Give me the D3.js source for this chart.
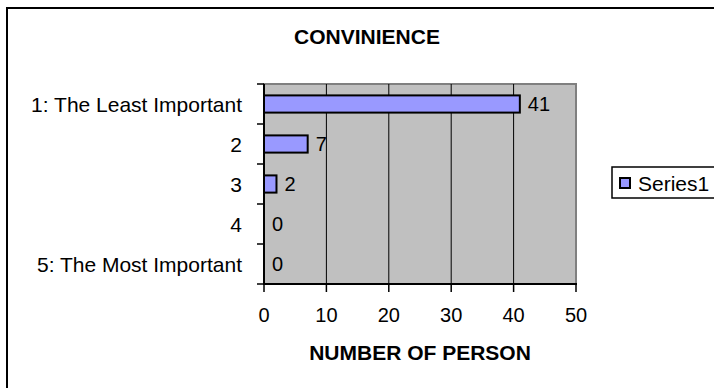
<!DOCTYPE html>
<html>
<head>
<meta charset="utf-8">
<script src="https://cdn.jsdelivr.net/npm/d3@7"></script>
<style>
  body { margin: 0; background: #fff; }
  svg { display: block; font-family: Arial, "Liberation Sans", sans-serif; }
</style>
</head>
<body>
<svg id="chart" width="714" height="388"></svg>
<script>
// data
const categories = ['1: The Least Important', '2', '3', '4', '5: The Most Important'];
const series1 = [41, 7, 2, 0, 0];
const xTicks = [0, 10, 20, 30, 40, 50];
const seriesName = 'Series1';

const plot = { left: 264, top: 84, right: 576, bottom: 284 };
const svg = d3.select('#chart');

// outer chart border (runs off the right and bottom edges)
svg.append('rect')
  .attr('x', 7).attr('y', 8)
  .attr('width', 800).attr('height', 500)
  .attr('fill', '#fff')
  .attr('stroke', '#000')
  .attr('stroke-width', 2);

let x = d3.scaleLinear().domain([0, 50]).range([plot.left, plot.right]);
let y = d3.scaleBand().domain(categories).range([plot.top, plot.bottom]).paddingInner(0.57).paddingOuter(0.285);
let yEdge = d3.scaleBand().domain(categories).range([plot.top, plot.bottom]);

// plot area
svg.append('rect')
  .attr('x', plot.left).attr('y', plot.top)
  .attr('width', plot.right - plot.left).attr('height', plot.bottom - plot.top)
  .attr('fill', '#c0c0c0')
  .attr('stroke', '#808080')
  .attr('stroke-width', 2);

// gridlines
svg.append('g')
  .selectAll('line')
  .data(xTicks.slice(1, -1))
  .enter()
  .append('line')
  .attr('x1', d => x(d)).attr('x2', d => x(d))
  .attr('y1', plot.top).attr('y2', plot.bottom)
  .attr('stroke', '#000')
  .attr('stroke-width', 1);

// bars
svg.append('g')
  .selectAll('rect')
  .data(series1)
  .enter()
  .append('rect')
  .attr('x', x(0))
  .attr('y', (d, i) => y(categories[i]))
  .attr('width', d => x(d) - x(0))
  .attr('height', y.bandwidth())
  .attr('fill', '#9999ff')
  .attr('stroke', '#000')
  .attr('stroke-width', 2)
  .style('display', d => d > 0 ? null : 'none');

// value labels
svg.append('g')
  .selectAll('text')
  .data(series1)
  .enter()
  .append('text')
  .attr('x', d => x(d) + 8)
  .attr('y', (d, i) => y(categories[i]) + y.bandwidth() / 2)
  .attr('dy', '0.36em')
  .attr('font-size', 20)
  .text(d => d);

// y axis
svg.append('line')
  .attr('x1', plot.left).attr('x2', plot.left)
  .attr('y1', plot.top).attr('y2', plot.bottom + 1)
  .attr('stroke', '#000').attr('stroke-width', 2);
let yTickPos = categories.map(c => yEdge(c)).concat([plot.bottom]);
svg.append('g')
  .selectAll('line')
  .data(yTickPos)
  .enter()
  .append('line')
  .attr('x1', plot.left - 7).attr('x2', plot.left)
  .attr('y1', d => d).attr('y2', d => d)
  .attr('stroke', '#000').attr('stroke-width', 1.5);
svg.append('g')
  .selectAll('text')
  .data(categories)
  .enter()
  .append('text')
  .attr('x', plot.left - 22)
  .attr('y', d => yEdge(d) + yEdge.bandwidth() / 2)
  .attr('dy', '0.36em')
  .attr('text-anchor', 'end')
  .attr('font-size', 21)
  .text(d => d);

// x axis
svg.append('line')
  .attr('x1', plot.left - 1).attr('x2', plot.right + 1)
  .attr('y1', plot.bottom).attr('y2', plot.bottom)
  .attr('stroke', '#000').attr('stroke-width', 2);
svg.append('g')
  .selectAll('line')
  .data(xTicks)
  .enter()
  .append('line')
  .attr('x1', d => x(d)).attr('x2', d => x(d))
  .attr('y1', plot.bottom).attr('y2', plot.bottom + 8)
  .attr('stroke', '#000').attr('stroke-width', 1.5);
svg.append('g')
  .selectAll('text')
  .data(xTicks)
  .enter()
  .append('text')
  .attr('x', d => x(d))
  .attr('y', 315)
  .attr('dy', '0.36em')
  .attr('text-anchor', 'middle')
  .attr('font-size', 20)
  .text(d => d);

// titles
svg.append('text')
  .attr('x', (plot.left + plot.right) / 2)
  .attr('y', 352)
  .attr('dy', '0.36em')
  .attr('text-anchor', 'middle')
  .attr('font-size', 21)
  .attr('font-weight', 'bold')
  .text('NUMBER OF PERSON');
svg.append('text')
  .attr('x', 367)
  .attr('y', 36)
  .attr('dy', '0.36em')
  .attr('text-anchor', 'middle')
  .attr('font-size', 21)
  .attr('font-weight', 'bold')
  .text('CONVINIENCE');

// legend
let legend = svg.append('g').attr('transform', 'translate(612,167)');
legend.append('rect')
  .attr('width', 200).attr('height', 31)
  .attr('fill', '#fff').attr('stroke', '#000').attr('stroke-width', 1.5);
legend.append('rect')
  .attr('x', 8).attr('y', 11).attr('width', 10).attr('height', 10)
  .attr('fill', '#9999ff').attr('stroke', '#000').attr('stroke-width', 2);
legend.append('text')
  .attr('x', 26).attr('y', 16)
  .attr('dy', '0.36em')
  .attr('font-size', 21)
  .text(seriesName);
</script>
</body>
</html>
